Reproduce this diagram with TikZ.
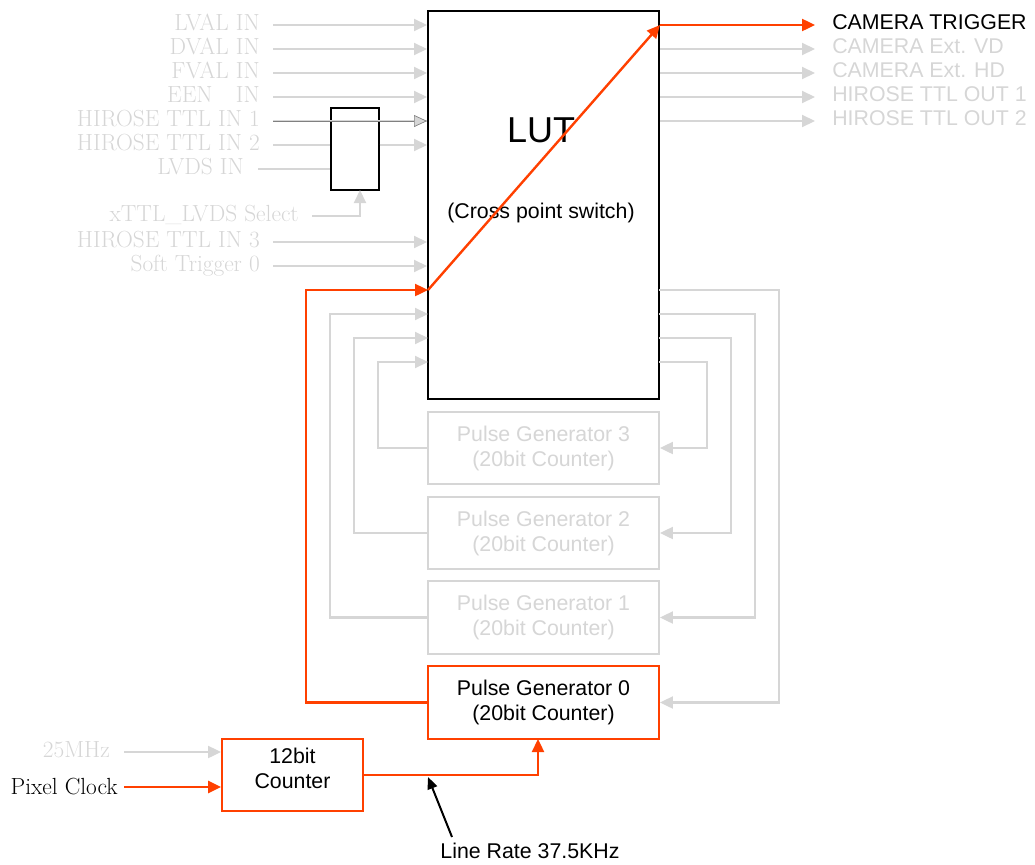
\documentclass[tikz,border=0pt]{standalone}
\usepackage{fontspec}
\setsansfont{Liberation Sans}
\usetikzlibrary{arrows.meta}
\definecolor{ltgray}{RGB}{214,214,214}
\definecolor{trigred}{RGB}{255,64,0}
\newcommand\sigfont{\fontsize{16}{19}\selectfont}
\newcommand\serfont{\fontsize{17.5}{21}\selectfont}

\begin{document}
\begin{tikzpicture}[x=0.75pt,y=0.75pt,yscale=-1,xscale=1,
  gline/.style={color=ltgray, line width=1.6pt},
  rline/.style={color=trigred, line width=1.8pt},
  tip/.style={-{Triangle[length=9.75pt,width=9pt]}},
  inlbl/.style={anchor=east, inner xsep=9.75pt, inner ysep=0pt, text height=0.86em, text depth=0pt, font=\serfont, text=ltgray},
  outlbl/.style={anchor=west, inner xsep=12.75pt, inner ysep=0pt, text height=0.72em, text depth=0pt, font=\sffamily\sigfont, text=ltgray},
  pgbox/.style={draw=ltgray, line width=1.4pt, fill=white, minimum width=173.25pt, minimum height=54.5pt, inner sep=0pt, align=center, font=\sffamily\fontsize{16}{18.75}\selectfont, text=ltgray}]
\path[use as bounding box] (0,0) rectangle (1035,864);

%Shape: LUT box
\node[draw, line width=1.5pt, fill=white, minimum width=173.25pt, minimum height=291pt, inner sep=0pt] (lut) at (543.5,205) {};
% Text Node
\node[font=\sffamily\fontsize{27}{32}\selectfont] (luttxt) at (541,130) {LUT};
% Text Node
\node[font=\sffamily\sigfont] (lutsub) at (541,213) {(Cross point switch)};

%Shape: selector box
\node[draw, line width=1pt, fill=white, minimum width=36pt, minimum height=61.5pt, inner sep=0pt] (mux) at (355,149) {};

% Text Node: inputs
\node[inlbl] (lval) at (273,25) {LVAL IN};
\node[inlbl] (dval) at (273,49) {DVAL IN};
\node[inlbl] (fval) at (273,73) {FVAL IN};
\node[inlbl] (een) at (273,97) {EEN\quad IN};
\node[inlbl] (hr1) at (273,121) {HIROSE TTL IN 1};
\node[inlbl] (hr2) at (273,145) {HIROSE TTL IN 2};
\node[inlbl, inner xsep=10.5pt] (lvds) at (258,169) {LVDS IN};
\node[inlbl] (sel) at (312,216) {xTTL\_LVDS Select};
\node[inlbl] (hr3) at (273,242) {HIROSE TTL IN 3};
\node[inlbl] (soft) at (273,266) {Soft Trigger 0};

% Text Node: outputs
\node[outlbl, text=black] (trig) at (815,25) {CAMERA TRIGGER};
\node[outlbl] (vd) at (815,49) {CAMERA Ext. VD};
\node[outlbl] (hd) at (815,73) {CAMERA Ext. HD};
\node[outlbl] (out1) at (815,97) {HIROSE TTL OUT 1};
\node[outlbl] (out2) at (815,121) {HIROSE TTL OUT 2};

%Shape: pulse generators
\node[pgbox] (pg3) at (543.5,448) {Pulse Generator 3\\(20bit Counter)};
\node[pgbox] (pg2) at (543.5,533) {Pulse Generator 2\\(20bit Counter)};
\node[pgbox] (pg1) at (543.5,617.5) {Pulse Generator 1\\(20bit Counter)};
\node[pgbox, draw=trigred, text=black] (pg0) at (543.5,702.5) {Pulse Generator 0\\(20bit Counter)};

%Shape: 12bit counter
\node[draw=trigred, line width=1.4pt, minimum width=105.75pt, minimum height=54pt, inner sep=0pt] (cnt) at (292.5,775) {};
\node[align=center, font=\sffamily\fontsize{16}{18.75}\selectfont] (cnttxt) at (292.5,768) {12bit\\Counter};

% Text Node: clocks
\node[inlbl, inner xsep=10.5pt] (mhz) at (124,752) {25MHz};
\node[inlbl, inner xsep=4.5pt, text height=1.1em, text=black] (pclk) at (124,787) {Pixel Clock};
% Text Node
\node[font=\sffamily\sigfont] (lrate) at (530,851) {Line Rate 37.5KHz};

\coordinate (fb0) at (428,290);
\coordinate (fb1) at (428,314);
\coordinate (fb2) at (428,338);
\coordinate (fb3) at (428,362);
\coordinate (lo0) at (659,290);
\coordinate (lo1) at (659,314);
\coordinate (lo2) at (659,338);
\coordinate (lo3) at (659,362);
\coordinate (selin) at (360,190);
\coordinate (pgin) at (538,739);
\coordinate (tap) at (428,777);
\coordinate (tail) at (452,837);

% input lines
\draw[gline,tip] (lval.east) -- (lval -| lut.west);
\draw[gline,tip] (dval.east) -- (dval -| lut.west);
\draw[gline,tip] (fval.east) -- (fval -| lut.west);
\draw[gline,tip] (een.east) -- (een -| lut.west);
\draw[gline] (hr1.east) -- (hr1 -| lut.west);
\draw[color=gray, line width=0.5pt, -{Triangle[length=9.75pt,width=9pt,fill=ltgray]}] (hr1.east) -- (hr1 -| lut.west);
\draw[gline] (hr2.east) -- (hr2 -| mux.west);
\draw[gline,tip] (hr2 -| mux.east) -- (hr2 -| lut.west);
\draw[gline] (lvds.east) -- (lvds -| mux.west);
\draw[gline,tip] (sel.east) -| (selin);
\draw[gline,tip] (hr3.east) -- (hr3 -| lut.west);
\draw[gline,tip] (soft.east) -- (soft -| lut.west);

% output lines
\draw[gline,tip] (vd -| lut.east) -- (vd.west);
\draw[gline,tip] (hd -| lut.east) -- (hd.west);
\draw[gline,tip] (out1 -| lut.east) -- (out1.west);
\draw[gline,tip] (out2 -| lut.east) -- (out2.west);

% feedback loops
\draw[gline,tip] (pg1.west) -- ++(-97,0) |- (fb1);
\draw[gline,tip] (pg2.west) -- ++(-73,0) |- (fb2);
\draw[gline,tip] (pg3.west) -- ++(-49,0) |- (fb3);
\draw[gline,tip] (lo0) -- ++(120,0) |- (pg0.east);
\draw[gline,tip] (lo1) -- ++(96,0) |- (pg1.east);
\draw[gline,tip] (lo2) -- ++(72,0) |- (pg2.east);
\draw[gline,tip] (lo3) -- ++(48,0) |- (pg3.east);

% trigger path
\draw[gline,tip] (mhz.east) -- (mhz -| cnt.west);
\draw[rline,tip] (pclk.east) -- (pclk -| cnt.west);
\draw[rline,tip] (cnt.east) -| (pgin);
\draw[rline,tip] (pg0.west) -- ++(-121,0) |- (fb0);
\draw[rline,tip] (fb0) -- (trig -| lut.east);
\draw[rline,tip] (trig -| lut.east) -- (trig.west);

\draw[line width=1.5pt, -{Triangle[length=9pt,width=7.5pt]}] (tail) -- (tap);

\end{tikzpicture}
\end{document}
